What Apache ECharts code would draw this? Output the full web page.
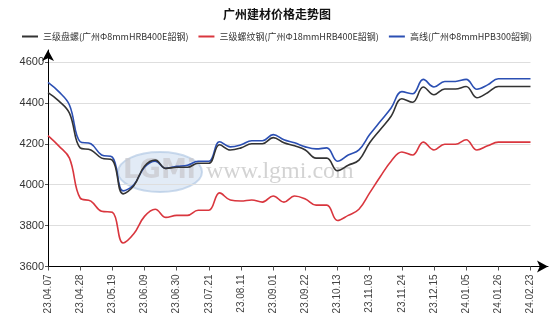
<!DOCTYPE html>
<html><head><meta charset="utf-8">
<script src="https://cdn.jsdelivr.net/npm/echarts@6/dist/echarts.min.js"></script>
<style>html,body{margin:0;padding:0;background:#fff}#c{width:554px;height:330px}</style>
</head><body><div id="c"></div>
<script>
var title = '广州建材价格走势图';
var seriesNames = ['三级盘螺(广州Φ8mmHRB400E韶钢)', '三级螺纹钢(广州Φ18mmHRB400E韶钢)', '高线(广州Φ8mmHPB300韶钢)'];
var tickLabels = ['23.04.07','23.04.28','23.05.19','23.06.09','23.06.30','23.07.21','23.08.11','23.09.01','23.09.22','23.10.13','23.11.03','23.11.24','23.12.15','24.01.05','24.01.26','24.02.23'];
// weekly values
var coil = [4450,4410,4350,4180,4170,4130,4120,3955,3995,4090,4120,4080,4085,4085,4105,4105,4195,4170,4180,4200,4200,4230,4205,4190,4170,4130,4130,4068,4095,4120,4205,4270,4335,4420,4403,4478,4440,4468,4468,4480,4425,4450,4480,4480,4480,4480];
var rebar = [4240,4190,4130,3935,3920,3870,3865,3715,3760,3845,3880,3840,3850,3850,3875,3875,3960,3925,3920,3925,3915,3945,3915,3945,3930,3900,3900,3825,3850,3880,3960,4040,4115,4160,4145,4208,4170,4198,4198,4220,4170,4190,4208,4208,4208,4208];
var wire = [4500,4455,4390,4210,4200,4145,4135,3970,4000,4085,4115,4080,4090,4095,4115,4115,4210,4185,4195,4215,4215,4245,4220,4205,4185,4175,4180,4115,4145,4170,4245,4310,4375,4455,4445,4515,4478,4505,4505,4515,4467,4488,4518,4518,4518,4518];

var colors = ['#333333', '#d9363e', '#2b4fb3'];
function pts(arr){ return arr.map(function(v,i){ return [i, v]; }); }
var chart = echarts.init(document.getElementById('c'));
var font = '"Noto Sans CJK SC", "Liberation Sans", Arial, sans-serif';
var lastIdx = coil.length - 1;
chart.setOption({
  animation: false,
  backgroundColor: '#fff',
  textStyle: {fontFamily: font},
  title: {text: title, left: 'center', top: 3, textStyle: {fontSize: 12, fontWeight: 'bold', color: '#111', fontFamily: font}},
  legend: {
    top: 32, left: 'center', padding: 0, itemWidth: 16, itemHeight: 2, itemGap: 10, icon: 'rect',
    textStyle: {fontSize: 9, color: '#333', fontFamily: font},
    data: seriesNames
  },
  grid: [
    {left: 48, right: 23.5, top: 62, bottom: 63.5},
    {left: 48, right: 6, top: 50, bottom: 63.5}
  ],
  graphic: [
    {type: 'ellipse', shape: {cx: 160, cy: 172, rx: 42, ry: 20}, style: {fill: 'rgba(190,210,235,0.45)', stroke: 'rgba(170,195,225,0.6)', lineWidth: 2}, z: 0},
    {type: 'text', left: 123, top: 158, style: {text: 'LGMi', font: 'bold 26px "DejaVu Sans", sans-serif', fill: 'rgba(200,200,205,0.75)'}, z: 0},
    {type: 'text', left: 206, top: 160, style: {text: 'www.lgmi.com', font: '24px "Liberation Serif", serif', fill: 'rgba(200,200,200,0.8)'}, z: 0}
  ],
  xAxis: [
    {type: 'value', gridIndex: 0, min: 0, max: lastIdx, interval: 3,
     axisLine: {show: false},
     axisTick: {show: true, length: 4, lineStyle: {color: '#555'}},
     splitLine: {show: false},
     axisLabel: {rotate: 90, fontSize: 10, color: '#444', margin: 8, fontFamily: 'Arial, "Liberation Sans", sans-serif',
       formatter: function(v){ return tickLabels[Math.round(v/3)] || ''; }}},
    {type: 'value', gridIndex: 1, min: 0, max: 1, show: true,
     axisLine: {show: true, symbol: ['none', 'arrow'], symbolSize: [9, 11], lineStyle: {color: '#000', width: 1}},
     axisTick: {show: false}, axisLabel: {show: false}, splitLine: {show: false}}
  ],
  yAxis: [
    {type: 'value', gridIndex: 0, min: 3600, max: 4600, interval: 200,
     axisLine: {show: false},
     axisTick: {show: true, length: 3, lineStyle: {color: '#555'}},
     splitLine: {show: true, lineStyle: {color: '#dedede', width: 1}},
     axisLabel: {fontSize: 11, color: '#333', margin: 4, fontFamily: 'Arial, "Liberation Sans", sans-serif',
       formatter: function(v){ return String(v); }}},
    {type: 'value', gridIndex: 1, min: 0, max: 1, show: true,
     axisLine: {show: true, symbol: ['none', 'arrow'], symbolSize: [9, 11], lineStyle: {color: '#000', width: 1}},
     axisTick: {show: false}, axisLabel: {show: false}, splitLine: {show: false}}
  ],
  series: [
    {name: seriesNames[0], type: 'line', xAxisIndex: 0, yAxisIndex: 0, data: pts(coil), smooth: 0.4, symbol: 'none', lineStyle: {width: 1.6, color: colors[0]}, itemStyle: {color: colors[0]}, z: 3},
    {name: seriesNames[1], type: 'line', xAxisIndex: 0, yAxisIndex: 0, data: pts(rebar), smooth: 0.4, symbol: 'none', lineStyle: {width: 1.6, color: colors[1]}, itemStyle: {color: colors[1]}, z: 3},
    {name: seriesNames[2], type: 'line', xAxisIndex: 0, yAxisIndex: 0, data: pts(wire), smooth: 0.4, symbol: 'none', lineStyle: {width: 1.6, color: colors[2]}, itemStyle: {color: colors[2]}, z: 2}
  ]
});
</script></body></html>
